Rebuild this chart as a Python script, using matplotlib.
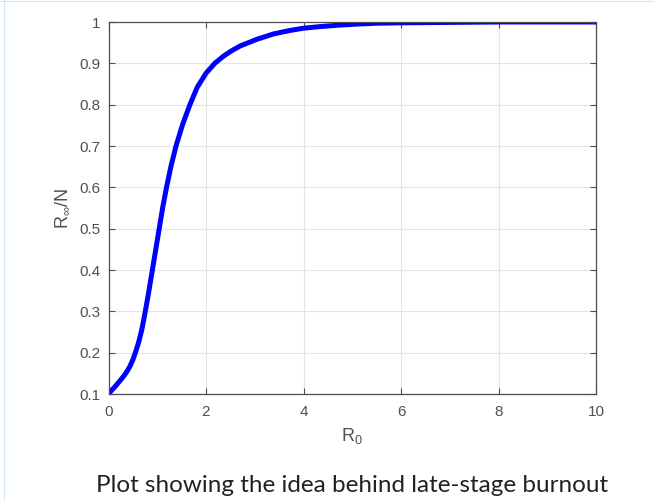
import matplotlib.pyplot as plt
from matplotlib.lines import Line2D

# values
r0 = [0.0, 0.05, 0.15, 0.27, 0.36, 0.44, 0.50, 0.56, 0.62, 0.68, 0.74,
      0.82, 0.90, 0.97, 1.04, 1.11, 1.19, 1.28, 1.385, 1.52, 1.67, 1.82,
      2.0, 2.18, 2.355, 2.52, 2.7, 3.04, 3.38, 3.7, 4.0, 4.35, 4.68, 5.1,
      5.5, 6.0, 7.0, 8.0, 10.0]
r_inf = [0.1, 0.107, 0.12, 0.137, 0.151, 0.167, 0.183, 0.203, 0.226, 0.254,
         0.29, 0.343, 0.4, 0.45, 0.5, 0.55, 0.6, 0.65, 0.7, 0.752, 0.80,
         0.842, 0.876, 0.9, 0.917, 0.93, 0.942, 0.958, 0.971, 0.979, 0.985,
         0.989, 0.992, 0.995, 0.997, 0.998, 0.999, 1.0, 1.0]
xticks = [0, 2, 4, 6, 8, 10]
yticks = [0.1, 0.2, 0.3, 0.4, 0.5, 0.6, 0.7, 0.8, 0.9, 1.0]
ytick_labels = ['0.1', '0.2', '0.3', '0.4', '0.5', '0.6', '0.7', '0.8', '0.9', '1']

plt.rcParams['font.family'] = ['Liberation Sans', 'DejaVu Sans']
plt.rcParams['mathtext.fontset'] = 'custom'
plt.rcParams['mathtext.rm'] = 'Liberation Sans'

fig = plt.figure(figsize=(6.53, 5.0), dpi=100)
ax = fig.add_axes([108.5 / 653, 1 - 394 / 500, (596 - 108.5) / 653, (394 - 22) / 500])

ax.plot(r0, r_inf, color='#0000ff', lw=3.6, solid_capstyle='round',
        solid_joinstyle='round')

ax.set_xlim(0, 10)
ax.set_ylim(0.1, 1)
ax.set_xticks(xticks)
ax.set_yticks(yticks)
ax.set_yticklabels(ytick_labels)
ax.grid(True, color='#e3e3e3', lw=0.8)
ax.tick_params(direction='in', top=True, right=True, length=4, width=0.8,
               colors='#4d4d4d', labelsize=11, labelcolor='#505050')
ax.tick_params(axis='x', pad=8)
ax.tick_params(axis='y', pad=6)
for s in ax.spines.values():
    s.set_color('#4d4d4d')
    s.set_linewidth(0.9)

ax.set_xlabel(r'$\mathregular{R_0}$', fontsize=13, color='#505050', labelpad=5)
ax.set_ylabel(r'$\mathregular{R_{\infty}/N}$', fontsize=13, color='#505050', labelpad=6)

fig.text(352 / 653, 1 - 486 / 500, 'Plot showing the idea behind late-stage burnout',
         ha='center', va='center', fontsize=17.5, family=['Lato', 'DejaVu Sans'], color='#222222')

# faint page border of the screenshot
blue = '#cfe6f7'
fig.add_artist(Line2D([3.5 / 653, 3.5 / 653], [0, 1], color=blue, lw=0.8))
fig.add_artist(Line2D([0, 1], [1 - 0.8 / 500, 1 - 0.8 / 500], color=blue, lw=0.8))

fig.savefig('out.png', dpi=100)
